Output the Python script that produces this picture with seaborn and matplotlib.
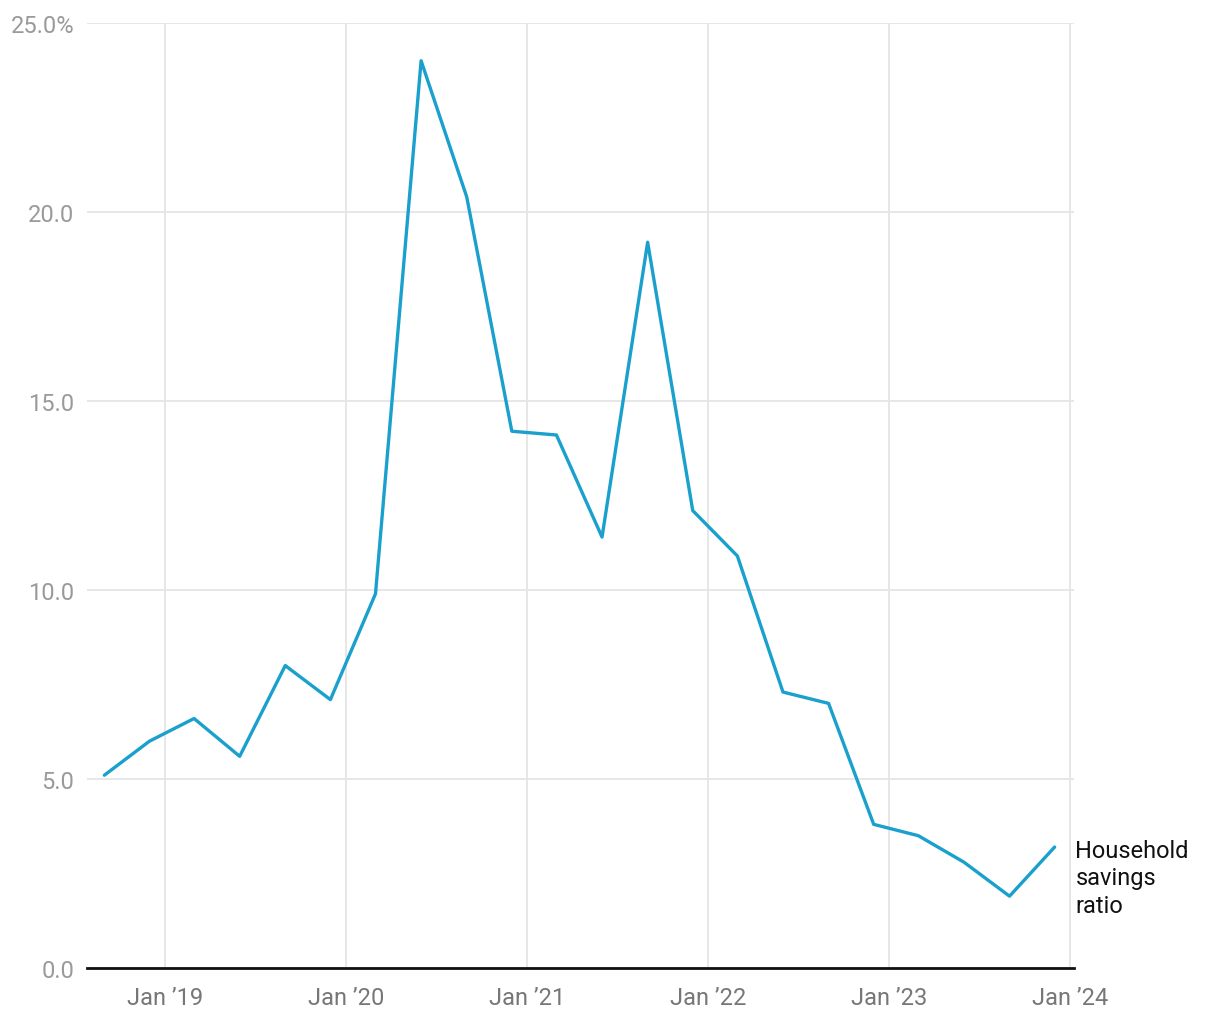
import pandas as pd
import numpy as np
import matplotlib
matplotlib.use("Agg")
import matplotlib.pyplot as plt
from matplotlib.ticker import FuncFormatter
import seaborn as sns

sns.set_style("white")
plt.rcParams['font.family'] = ['Roboto', 'DejaVu Sans']

# quarterly household savings ratio, %
dates = pd.date_range("2018-09-01", "2023-12-01", freq="3MS")
ratio = [5.1, 6.0, 6.6, 5.6, 8.0, 7.1, 9.9, 24.0, 20.4, 14.2, 14.1,
         11.4, 19.2, 12.1, 10.9, 7.3, 7.0, 3.8, 3.5, 2.8, 1.9, 3.2]
series_name = "Household\nsavings\nratio"
year_ticks = pd.to_datetime(["2019-01-01", "2020-01-01", "2021-01-01",
                             "2022-01-01", "2023-01-01", "2024-01-01"])
year_labels = ["Jan \u201919", "Jan \u201920", "Jan \u201921",
               "Jan \u201922", "Jan \u201923", "Jan \u201924"]
y_ticks = [0, 5, 10, 15, 20, 25]

df = pd.DataFrame({"date": dates, "ratio": ratio})

fig = plt.figure(figsize=(12.2, 10.2), dpi=100)
ax = fig.add_axes([0.0713, 0.05, 0.809, 0.9265])

sns.lineplot(data=df, x="date", y="ratio", ax=ax, color="#1aa0cd",
             linewidth=2.4, zorder=3)

ax.set_xlim(pd.Timestamp("2018-07-28"), pd.Timestamp("2024-01-09"))
ax.set_ylim(0, 25)
ax.set_xticks(year_ticks)
ax.set_xticklabels(year_labels)
ax.set_yticks(y_ticks)
ax.yaxis.set_major_formatter(FuncFormatter(
    lambda v, p: f"{v:.1f}%" if v == 25 else f"{v:.1f}"))

ax.tick_params(axis="x", length=0, pad=13, labelsize=17, labelcolor="#777777")
ax.tick_params(axis="y", length=0, pad=9, labelsize=17, labelcolor="#9a9a9a")
ax.grid(True, color="#e5e5e5", linewidth=1.3, zorder=0)
ax.set_axisbelow(True)

for s in ["top", "right", "left"]:
    ax.spines[s].set_visible(False)
ax.spines["bottom"].set_color("#111111")
ax.spines["bottom"].set_linewidth(2)
ax.spines["bottom"].set_zorder(4)

ax.set_xlabel("")
ax.set_ylabel("")

ax.annotate(series_name, xy=(dates[-1], ratio[-1]), xytext=(15, -22),
            textcoords="offset points", ha="left", va="center",
            fontsize=17, color="#111111", linespacing=1.25,
            annotation_clip=False)

plt.savefig("out.png", dpi=100)
